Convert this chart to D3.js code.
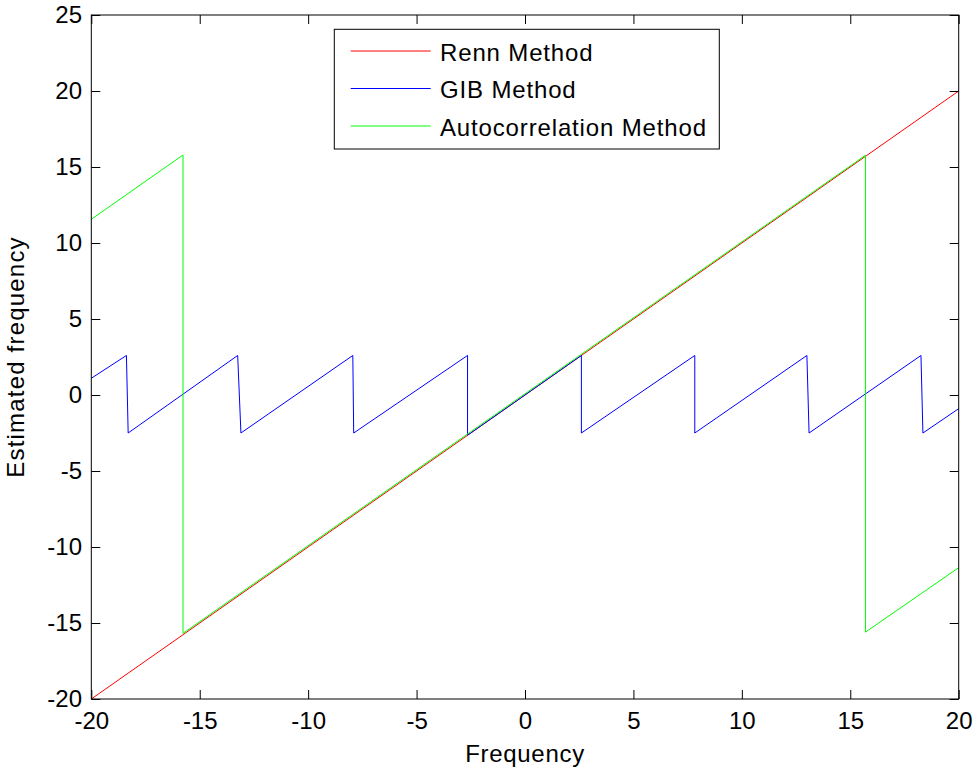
<!DOCTYPE html>
<html>
<head>
<meta charset="utf-8">
<script src="https://cdn.jsdelivr.net/npm/d3@7"></script>
<style>
  html, body { margin: 0; padding: 0; background: #fff; }
  svg { display: block; font-family: "Liberation Sans", Arial, sans-serif; }
</style>
</head>
<body>
<script>
// Frequency estimates of three methods versus true frequency
const xTicks = [-20, -15, -10, -5, 0, 5, 10, 15, 20];
const yTicks = [-20, -15, -10, -5, 0, 5, 10, 15, 20, 25];

// Renn method: follows the true frequency
const rennX = [-20, 20];
const rennY = [-20, 20];

// GIB method: wraps around in a sawtooth
const gibX = [-20, -18.38, -18.3, -13.25, -13.1, -7.94, -7.9, -2.65, -2.65, 2.6, 2.6, 7.83, 7.83, 13.0, 13.1, 18.26, 18.35, 20];
const gibY = [1.1, 2.6, -2.5, 2.6, -2.5, 2.6, -2.5, 2.6, -2.65, 2.6, -2.5, 2.6, -2.5, 2.6, -2.5, 2.6, -2.5, -0.9];

// Autocorrelation method: wraps at roughly +/-15.7
const acX = [-20, -15.77, -15.77, 15.7, 15.7, 20];
const acY = [11.56, 15.79, -15.68, 15.77, -15.6, -11.36];

const seriesNames = ["Renn Method", "GIB Method", "Autocorrelation Method"];
const seriesColors = ["#ff0000", "#0000ff", "#00ff00"];

const W = 975, H = 769;
const m = { left: 91.3, right: 958.7, top: 15, bottom: 699 };

const svg = d3.select("body").append("svg").attr("width", W).attr("height", H);

const x = d3.scaleLinear().domain([-20, 20]).range([m.left, m.right]);
const y = d3.scaleLinear().domain([-20, 25]).range([m.bottom, m.top]);

// Plot area
svg.append("rect")
  .attr("x", m.left).attr("y", m.top)
  .attr("width", m.right - m.left).attr("height", m.bottom - m.top)
  .attr("fill", "#fff");

// Series
const line = d3.line().x(d => x(d[0])).y(d => y(d[1]));
const series = [
  d3.zip(rennX, rennY),
  d3.zip(gibX, gibY),
  d3.zip(acX, acY)
];
const plot = svg.append("g");
series.forEach((pts, i) => {
  plot.append("path")
    .attr("d", line(pts))
    .attr("fill", "none")
    .attr("stroke", seriesColors[i])
    .attr("stroke-width", 1);
});

// Axes with inward ticks on all four sides
const tick = 9;
const plain = d => String(d);
function styleAxis(g) {
  g.select(".domain").remove();
  g.selectAll(".tick line").attr("stroke", "#000");
  g.selectAll("text").attr("fill", "#000").style("font-size", "24px").style("font-family", "'Liberation Sans', Arial, sans-serif");
}
svg.append("g").attr("transform", `translate(0,${m.bottom})`)
  .call(d3.axisBottom(x).tickValues(xTicks).tickSize(-tick).tickPadding(13).tickFormat(plain))
  .call(styleAxis);
svg.append("g").attr("transform", `translate(0,${m.top})`)
  .call(d3.axisTop(x).tickValues(xTicks).tickSize(-tick).tickFormat(""))
  .call(styleAxis);
svg.append("g").attr("transform", `translate(${m.left},0)`)
  .call(d3.axisLeft(y).tickValues(yTicks).tickSize(-tick).tickPadding(9.3).tickFormat(plain))
  .call(styleAxis);
svg.append("g").attr("transform", `translate(${m.right},0)`)
  .call(d3.axisRight(y).tickValues(yTicks).tickSize(-tick).tickFormat(""))
  .call(styleAxis);

// Box
svg.append("rect")
  .attr("x", m.left).attr("y", m.top)
  .attr("width", m.right - m.left).attr("height", m.bottom - m.top)
  .attr("fill", "none").attr("stroke", "#000").attr("stroke-width", 1);

// Axis titles
svg.append("text")
  .attr("x", (m.left + m.right) / 2).attr("y", 762)
  .attr("text-anchor", "middle")
  .style("font-size", "24px").style("letter-spacing", "0.7px")
  .text("Frequency");
svg.append("text")
  .attr("transform", `translate(24,${(m.top + m.bottom) / 2}) rotate(-90)`)
  .attr("text-anchor", "middle")
  .style("font-size", "24px").style("letter-spacing", "1.2px")
  .text("Estimated frequency");

// Legend
const legend = svg.append("g");
legend.append("rect")
  .attr("x", 334.3).attr("y", 29.3)
  .attr("width", 385).attr("height", 119.7)
  .attr("fill", "#fff").attr("stroke", "#000").attr("stroke-width", 1);
const rowY = [51, 88.5, 126];
seriesNames.forEach((name, i) => {
  legend.append("line")
    .attr("x1", 350.7).attr("x2", 430.7)
    .attr("y1", rowY[i]).attr("y2", rowY[i])
    .attr("stroke", seriesColors[i]).attr("stroke-width", 1);
  legend.append("text")
    .attr("x", 440).attr("y", rowY[i] + 9.6)
    .style("font-size", "24px").style("letter-spacing", "0.85px")
    .text(name);
});
</script>
</body>
</html>
